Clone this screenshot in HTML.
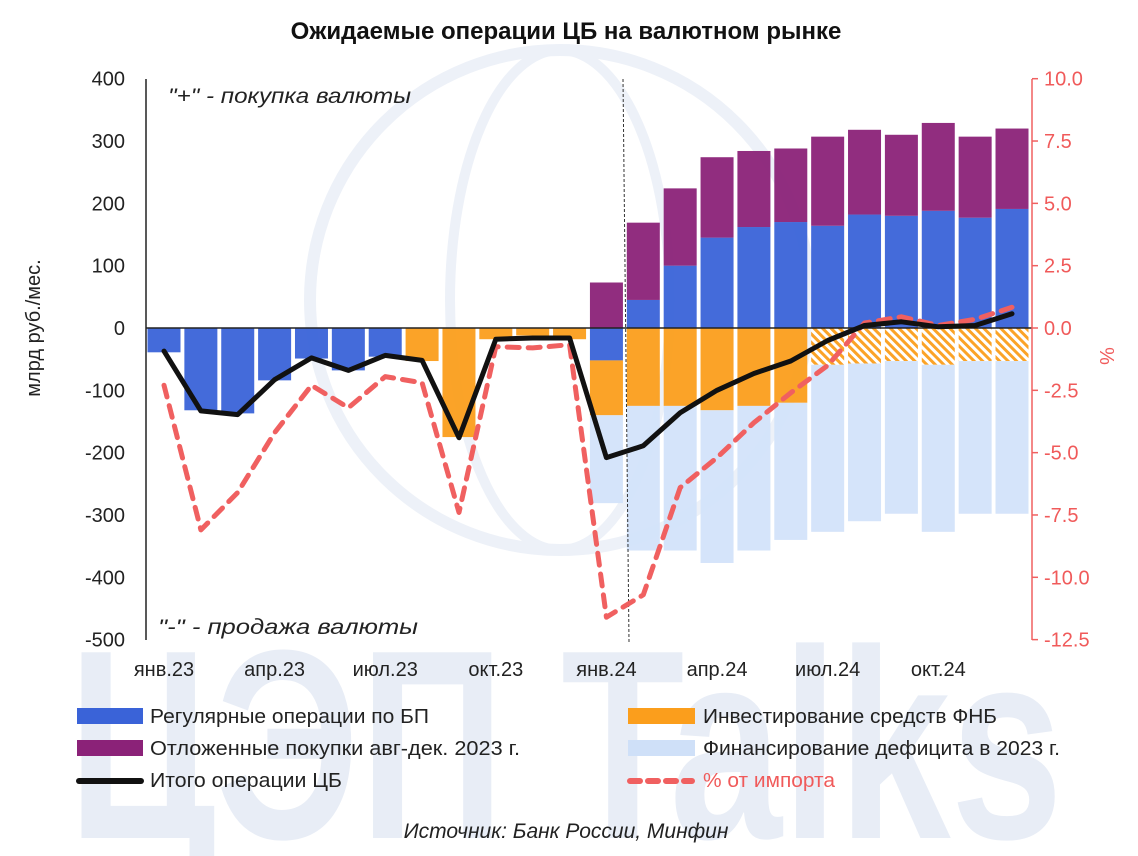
<!DOCTYPE html>
<html><head><meta charset="utf-8"><style>
html,body{margin:0;background:#fff;overflow:hidden;width:1138px;height:856px;}
svg{display:block;overflow:hidden;font-family:"Liberation Sans","DejaVu Sans",sans-serif;}
</style></head><body>
<svg id="c" width="1138" height="856" viewBox="0 0 1138 856">
<defs>
<pattern id="hatch" width="6" height="6" patternUnits="userSpaceOnUse" patternTransform="rotate(-45)">
<rect width="6" height="6" fill="#fff"/><rect width="3" height="6" fill="#fb9e1c"/>
</pattern>
</defs>
<g fill="#e8edf6">
<ellipse cx="560" cy="300" rx="250" ry="250" fill="none" stroke="#edf1f8" stroke-width="12"/>
<ellipse cx="560" cy="300" rx="110" ry="250" fill="none" stroke="#edf1f8" stroke-width="10"/>
<text x="68" y="838" font-size="270" font-weight="bold" textLength="995" lengthAdjust="spacingAndGlyphs">ЦЭП Talks</text>
</g>
<text x="566" y="39" text-anchor="middle" font-size="24" font-weight="bold" fill="#111">Ожидаемые операции ЦБ на валютном рынке</text>
<g id="bars"></g>
<g id="axes"></g>
<g id="lines"></g>
<text x="168" y="103" font-size="21" font-style="italic" fill="#222" textLength="243" lengthAdjust="spacingAndGlyphs">"+" - покупка валюты</text>
<text x="158" y="634" font-size="21" font-style="italic" fill="#222" textLength="260" lengthAdjust="spacingAndGlyphs">"-" - продажа валюты</text>
<text transform="translate(40,328) rotate(-90)" text-anchor="middle" font-size="20" fill="#222">млрд руб./мес.</text>
<text transform="translate(1100,356) rotate(90)" text-anchor="middle" font-size="20" fill="#f05a5a">%</text>
<g id="legend" font-size="20" fill="#222">
<g><rect x="77" y="708" width="66" height="16" fill="#3a63d8"/><text x="150" y="723" textLength="279" lengthAdjust="spacingAndGlyphs">Регулярные операции по БП</text></g>
<g><rect x="77" y="740" width="66" height="16" fill="#8b2278"/><text x="150" y="755" textLength="370" lengthAdjust="spacingAndGlyphs">Отложенные покупки авг-дек. 2023 г.</text></g>
<g><line x1="79" y1="781" x2="141" y2="781" stroke="#111" stroke-width="6" stroke-linecap="round"/><text x="150" y="787" textLength="192" lengthAdjust="spacingAndGlyphs">Итого операции ЦБ</text></g>
<g><rect x="628" y="708" width="67" height="16" fill="#fb9e1c"/><text x="703" y="723" textLength="294" lengthAdjust="spacingAndGlyphs">Инвестирование средств ФНБ</text></g>
<g><rect x="628" y="740" width="67" height="16" fill="#cfe0f8"/><text x="703" y="755" textLength="357" lengthAdjust="spacingAndGlyphs">Финансирование дефицита в 2023 г.</text></g>
<g><line x1="630" y1="781" x2="692" y2="781" stroke="#f06060" stroke-width="6" stroke-dasharray="10,8" stroke-linecap="round"/><text x="703" y="787" fill="#f05a5a" textLength="132" lengthAdjust="spacingAndGlyphs">% от импорта</text></g>
</g>
<text x="566" y="838" text-anchor="middle" font-size="21" font-style="italic" fill="#222">Источник: Банк России, Минфин</text>
</svg>
<script>
const months = ["янв.23","фев.23","мар.23","апр.23","май.23","июн.23","июл.23","авг.23","сен.23","окт.23","ноя.23","дек.23","янв.24","фев.24","мар.24","апр.24","май.24","июн.24","июл.24","авг.24","сен.24","окт.24","ноя.24","дек.24"];
const regularBP = [-39,-132,-137,-84,-49,-68,-46,0,0,0,0,0,-52,45,100,145,162,170,164,182,180,188,177,191];
const deferred = [0,0,0,0,0,0,0,0,0,0,0,0,73,124,124,129,122,118,143,136,130,141,130,129];
const fnb = [0,0,0,0,0,0,0,-53,-175,-18,-12,-18,-88,-125,-125,-132,-125,-120,0,0,0,0,0,0];
const fnbPlanned = [0,0,0,0,0,0,0,0,0,0,0,0,0,0,0,0,0,0,-59,-57,-53,-59,-53,-53];
const deficit = [0,0,0,0,0,0,0,0,0,0,0,0,-141,-232,-232,-245,-232,-220,-268,-253,-245,-268,-245,-245];
const total = [-37,-133,-139,-83,-48,-68,-44,-52,-176,-18,-16,-16,-208,-189,-136,-100,-73,-53,-20,4,10,2,4,23];
const pctImport = [-2.3,-8.1,-6.6,-4.2,-2.3,-3.2,-1.95,-2.2,-7.4,-0.75,-0.8,-0.67,-11.6,-10.7,-6.4,-5.2,-3.8,-2.6,-1.5,0.2,0.45,0.1,0.35,0.83];
const leftTicks = [400,300,200,100,0,-100,-200,-300,-400,-500];
const rightTicks = [10,7.5,5,2.5,0,-2.5,-5,-7.5,-10,-12.5];
const xLabelIdx = [0,3,6,9,12,15,18,21];

const NS="http://www.w3.org/2000/svg";
const yL = v => 328 - v*0.6233;
const yR = v => 328 - v*24.93;
const xC = i => 164 + i*36.87;
const BW = 33;
function mk(tag, attrs, parent){const e=document.createElementNS(NS,tag);for(const k in attrs)e.setAttribute(k,attrs[k]);parent.appendChild(e);return e;}
const gb=document.getElementById('bars'), ga=document.getElementById('axes'), gl=document.getElementById('lines');

function bar(i, base, v, fill, name){
  if(!v) return base;
  const y1=yL(base), y2=yL(base+v);
  const r=mk('rect',{x:xC(i)-BW/2,y:Math.min(y1,y2),width:BW,height:Math.abs(y2-y1),fill:fill,opacity:0.95},gb);
  
  
  return base+v;
}
months.forEach((m,i)=>{
  let pos=0, neg=0;
  if(regularBP[i]>=0) pos=bar(i,pos,regularBP[i],'#3a63d8','bar-regular-bp'); else neg=bar(i,neg,regularBP[i],'#3a63d8','bar-regular-bp');
  pos=bar(i,pos,deferred[i],'#8b2278','bar-deferred');
  neg=bar(i,neg,fnb[i],'#fb9e1c','bar-fnb');
  neg=bar(i,neg,fnbPlanned[i],'url(#hatch)','bar-fnb-planned');
  neg=bar(i,neg,deficit[i],'#d3e3fa','bar-deficit');
});
let e;
e=mk('line',{x1:146,y1:yL(0),x2:1032,y2:yL(0),stroke:'#222','stroke-width':1.5},ga);


e=mk('line',{x1:146,y1:79,x2:146,y2:640,stroke:'#222','stroke-width':1.5},ga);


e=mk('line',{x1:1032,y1:79,x2:1032,y2:640,stroke:'#f06060','stroke-width':1.5},ga);


e=mk('line',{x1:623,y1:79,x2:629,y2:642,stroke:'#333','stroke-width':1,'stroke-dasharray':'3,2'},ga);


leftTicks.forEach(v=>{
  const t=mk('text',{x:125,y:yL(v)+7,'text-anchor':'end','font-size':20,fill:'#222'},ga);
  t.textContent=v;
  
  
});
rightTicks.forEach(v=>{
  mk('line',{x1:1032,y1:yR(v),x2:1038,y2:yR(v),stroke:'#f06060','stroke-width':1.5},ga);
  const t=mk('text',{x:1044,y:yR(v)+7,'font-size':20,fill:'#f05a5a'},ga);
  t.textContent=v.toFixed(1);
  
  
});
xLabelIdx.forEach(i=>{
  const t=mk('text',{x:xC(i),y:676,'text-anchor':'middle','font-size':20,fill:'#222'},ga);
  t.textContent=months[i];
  
  
});
const pctPts=pctImport.map((v,i)=>xC(i).toFixed(1)+','+yR(v).toFixed(1)).join(' ');
e=mk('polyline',{points:pctPts,fill:'none',stroke:'#f06060','stroke-width':5,'stroke-dasharray':'12,9','stroke-linecap':'round','stroke-linejoin':'round'},gl);


const totPts=total.map((v,i)=>xC(i).toFixed(1)+','+yL(v).toFixed(1)).join(' ');
e=mk('polyline',{points:totPts,fill:'none',stroke:'#111','stroke-width':5,'stroke-linejoin':'round','stroke-linecap':'round'},gl);


</script>
</body></html>
